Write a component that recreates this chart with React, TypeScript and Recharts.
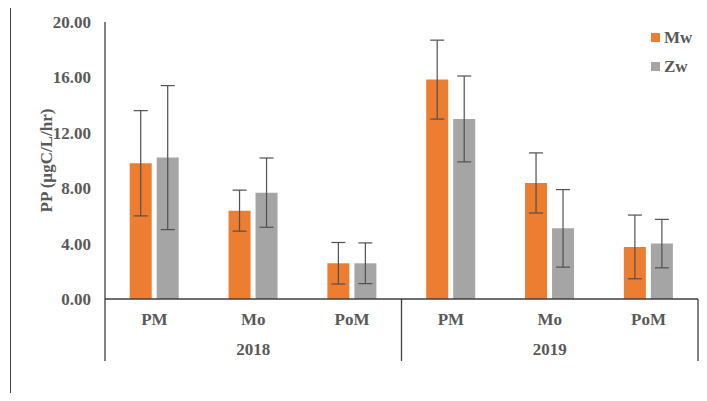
import { BarChart, Bar, XAxis, YAxis, ErrorBar } from 'recharts';

const SEASONS = ['PM', 'Mo', 'PoM', 'PM', 'Mo', 'PoM'];
const YEARS = ['2018', '2018', '2018', '2019', '2019', '2019'];
const MW = [9.8, 6.38, 2.58, 15.84, 8.38, 3.76];
const MW_ERR = [3.8, 1.48, 1.5, 2.85, 2.17, 2.3];
const ZW = [10.21, 7.68, 2.58, 13.0, 5.1, 4.0];
const ZW_ERR = [5.2, 2.5, 1.47, 3.1, 2.8, 1.75];
const Y_TICKS = [0, 4, 8, 12, 16, 20];

const data = SEASONS.map((s, i) => ({
  season: s,
  year: YEARS[i],
  Mw: MW[i],
  mwErr: MW_ERR[i],
  Zw: ZW[i],
  zwErr: ZW_ERR[i],
}));

const FONT = '"Liberation Serif", "Times New Roman", serif';
const TEXT = '#595959';
const LINE = '#3f3f3f';
const ORANGE = '#ED7D31';
const GREY = '#A5A5A5';
const AXIS_H = 31;

const SERIES = [
  { key: 'Mw', err: 'mwErr', color: ORANGE },
  { key: 'Zw', err: 'zwErr', color: GREY },
];

function SeasonTick({ x, y, index, payload }: any) {
  const half = payload?.offset || 49.4;
  const depth = AXIS_H * 2;
  return (
    <g>
      <text x={x} y={y + 20} textAnchor="middle" dominantBaseline="central" fontFamily={FONT} fontWeight="bold" fontSize={17} fill={TEXT}>
        {payload.value}
      </text>
      {index === 0 && <line x1={x - half} x2={x - half} y1={y} y2={y + depth} stroke={LINE} strokeWidth={1.3} />}
      {(index === 2 || index === 5) && <line x1={x + half} x2={x + half} y1={y} y2={y + depth} stroke={LINE} strokeWidth={1.3} />}
    </g>
  );
}

function YearTick({ x, y, index, payload }: any) {
  // one label per year, under the middle season
  if (index !== 1 && index !== 4) return <g />;
  return (
    <text x={x} y={y + 19} textAnchor="middle" dominantBaseline="central" fontFamily={FONT} fontWeight="bold" fontSize={17} fill={TEXT}>
      {payload.value}
    </text>
  );
}

function YLabel({ viewBox }: any) {
  const cx = 46;
  const cy = viewBox.y + viewBox.height / 2;
  return (
    <text x={cx} y={cy} transform={`rotate(-90 ${cx} ${cy})`} textAnchor="middle" dominantBaseline="central" fontFamily={FONT} fontWeight="bold" fontSize={17} fill={TEXT}>
      PP (µgC/L/hr)
    </text>
  );
}

export default function App() {
  return (
    <div style={{ position: 'relative', width: 707, height: 401, margin: -8, background: '#fff' }}>
      <div style={{ position: 'absolute', left: 10, top: 5, right: 0, bottom: 0, borderTop: `1.5px solid ${LINE}`, borderLeft: `1.5px solid ${LINE}` }} />
      <BarChart
        width={707}
        height={401}
        data={data}
        margin={{ top: 22, right: 9, left: 0, bottom: 40 }}
        barCategoryGap="25%"
        barGap={5}
        style={{ position: 'absolute', left: 0, top: 0 }}
      >
        <XAxis dataKey="season" height={AXIS_H} tick={<SeasonTick />} tickLine={false} tickSize={0} tickMargin={0} axisLine={{ stroke: LINE, strokeWidth: 1.3 }} interval={0} />
        <XAxis xAxisId="year" dataKey="year" height={AXIS_H} tick={<YearTick />} tickLine={false} tickSize={0} tickMargin={0} axisLine={false} interval={0} />
        <YAxis
          domain={[0, 20]}
          ticks={Y_TICKS}
          width={105}
          tickFormatter={(v: number) => v.toFixed(2)}
          tick={{ fontFamily: FONT, fontWeight: 'bold', fontSize: 17, fill: TEXT }}
          tickLine={false}
          tickSize={0}
          tickMargin={14}
          axisLine={{ stroke: LINE, strokeWidth: 1.3 }}
          label={<YLabel />}
        />
        {SERIES.map((s) => (
          <Bar key={s.key} dataKey={s.key} fill={s.color} isAnimationActive={false}>
            <ErrorBar dataKey={s.err} width={7} stroke="#505050" strokeWidth={1.2} />
          </Bar>
        ))}
      </BarChart>
      <div style={{ position: 'absolute', left: 651, top: 23, fontFamily: FONT, fontWeight: 'bold', fontSize: 17, color: TEXT }}>
        {SERIES.map((s) => (
          <div key={s.key} style={{ display: 'flex', alignItems: 'center', height: 29 }}>
            <span style={{ width: 9, height: 9, background: s.color, marginRight: 4 }} />
            {s.key}
          </div>
        ))}
      </div>
    </div>
  );
}
